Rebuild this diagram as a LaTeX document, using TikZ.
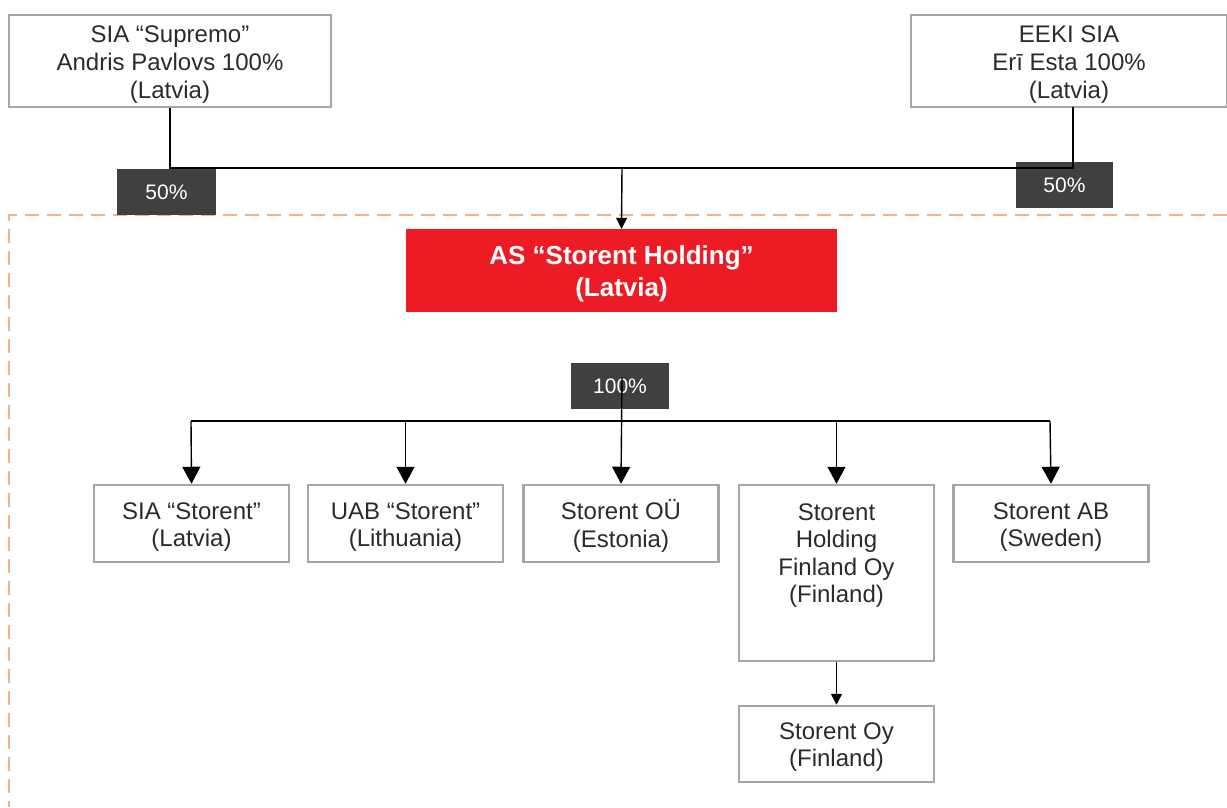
\documentclass[tikz,border=0pt]{standalone}
\usepackage{fontspec}
\setmainfont{Liberation Sans}
\usetikzlibrary{arrows.meta}
\definecolor{boxgray}{HTML}{A6A6A6}
\definecolor{txtgray}{HTML}{2B2B2B}
\definecolor{labgray}{HTML}{404040}
\definecolor{storentred}{HTML}{ED1C24}
\definecolor{dashorange}{HTML}{F4B183}
\newcommand{\lowtext}[2]{\raisebox{-#1}[\height][\depth]{\begin{tabular}{@{}c@{}}#2\end{tabular}}}
\begin{document}
\begin{tikzpicture}[x=1pt,y=-1pt,
  box/.style={draw=boxgray, line width=2.5pt, fill=white, inner sep=0pt,
    text=txtgray, font=\fontsize{24}{27.6}\selectfont},
  pct/.style={fill=labgray, inner sep=0pt, text=white, font=\fontsize{21}{24}\selectfont,
    minimum height=46pt},
  conn/.style={draw=black, line width=1.4pt},
  arrL/.style={conn, -{Triangle[width=18pt,length=17pt]}},
  arrS/.style={conn, -{Triangle[width=11pt,length=11pt]}},
  bordline/.style={draw=dashorange, line width=2pt, dash pattern=on 14pt off 8pt}
]
\useasboundingbox (0,0) rectangle (1227,807);
\fill[white] (0,0) rectangle (1227,807);

% dashed boundary
\coordinate (dtr) at (1227,215);
\coordinate (dtl) at (9,215);
\coordinate (dbl) at (9,807);
\draw[bordline] (dtr) -- (dtl) -- (dbl);

% owners
\node[box, minimum width=322pt, minimum height=92pt] (supremo) at (170,61)
  {\lowtext{4pt}{SIA “Supremo”\\Andris Pavlovs 100\%\\(Latvia)}};
\node[box, minimum width=316pt, minimum height=92pt] (eeki) at (1069,61)
  {\lowtext{4pt}{EEKI SIA\\Erī Esta 100\%\\(Latvia)}};

% percentage labels
\node[pct, minimum width=99pt] (p1) at (166.5,192) {\lowtext{3pt}{50\%}};
\node[pct, minimum width=97pt] (p2) at (1064.5,185) {\lowtext{3pt}{50\%}};

% holding
\node[fill=storentred, inner sep=0pt, minimum width=431pt, minimum height=83pt,
  text=white, font=\fontsize{26}{32}\selectfont\bfseries] (red) at (621.5,270.5)
  {\lowtext{4pt}{AS “Storent Holding”\\(Latvia)}};

\node[pct, minimum width=98pt] (p3) at (620,386) {\lowtext{3pt}{100\%}};

% subsidiaries
\node[box, minimum width=195pt, minimum height=77pt] (sia) at (191.5,523.5) {\lowtext{4pt}{SIA “Storent”\\(Latvia)}};
\node[box, minimum width=195pt, minimum height=77pt] (uab) at (405.5,523.5) {\lowtext{4pt}{UAB “Storent”\\(Lithuania)}};
\node[box, minimum width=195pt, minimum height=77pt] (ou) at (621,523.5) {\lowtext{4pt}{Storent OÜ\\(Estonia)}};
\node[box, minimum width=195pt, minimum height=176pt] (fin) at (836.5,573) {};
\node[inner sep=0pt, text=txtgray, font=\fontsize{24}{27.6}\selectfont] (fintext) at (836.5,556)
  {\lowtext{0pt}{Storent\\Holding\\Finland Oy\\(Finland)}};
\node[box, minimum width=195pt, minimum height=77pt] (ab) at (1051,523.5) {\lowtext{4pt}{Storent AB\\(Sweden)}};
\node[box, minimum width=195pt, minimum height=76pt] (oy) at (836.5,744) {\lowtext{3.5pt}{Storent Oy\\(Finland)}};

% owner connectors
\coordinate (jl) at (170,168);
\coordinate (jr) at (1073,168);
\coordinate (jc) at (622,168);
\coordinate (eb) at (1073,107);
\draw[conn] (supremo.south) -- (jl) -- (jr) -- (eb);
\draw[arrS] (jc) -- (red.north);

% subsidiary connectors
\coordinate (hc) at (622,377);
\coordinate (bl) at (191,421);
\coordinate (br) at (1050,421);
\draw[conn] (bl) -- (br);
\draw[arrL] (hc) -- (ou.north);
\draw[arrL] (bl) -- (sia.north);
\draw[arrL] (uab.north |- bl) -- (uab.north);
\draw[arrL] (fin.north |- bl) -- (fin.north);
\draw[arrL] (br) -- (ab.north);
\draw[arrS] (fin.south) -- (oy.north);
\end{tikzpicture}
\end{document}
